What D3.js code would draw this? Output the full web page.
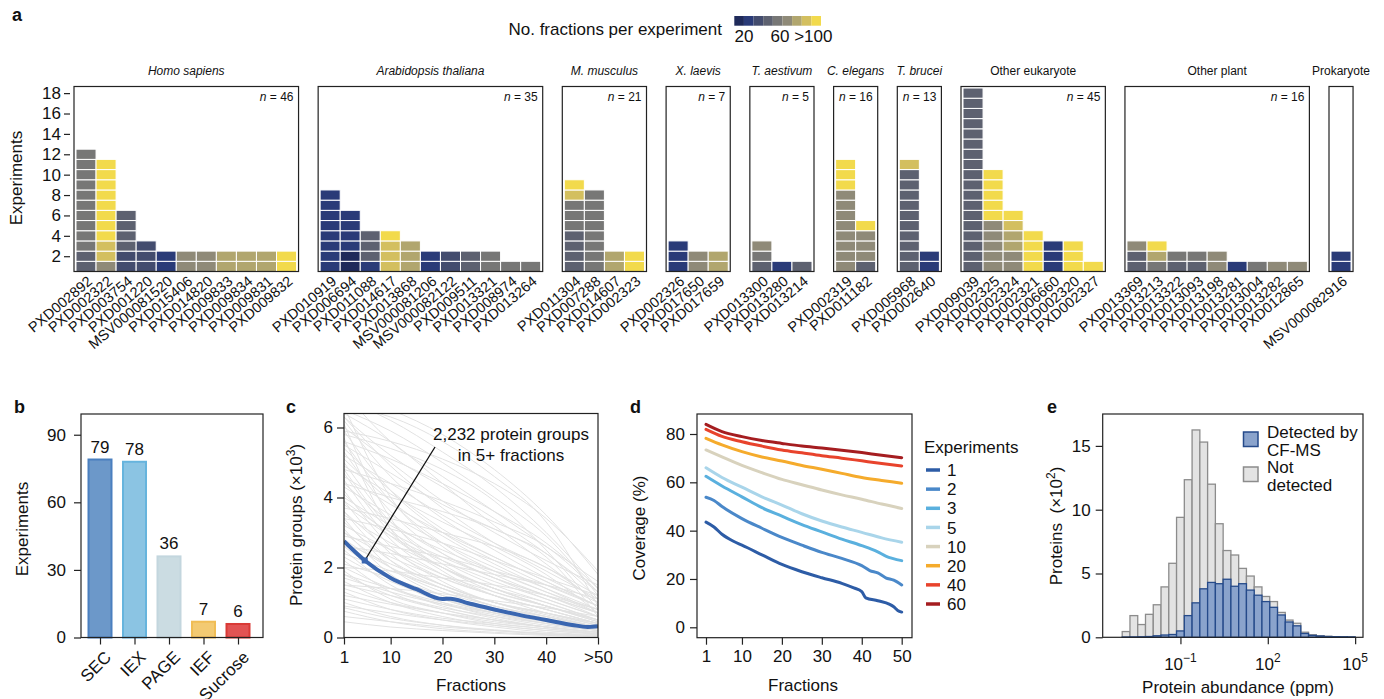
<!DOCTYPE html>
<html><head><meta charset="utf-8">
<script src="https://cdn.jsdelivr.net/npm/d3@7"></script>
<style>
body{margin:0;background:#fff}
svg text{font-family:"Liberation Sans",Arial,Helvetica,sans-serif;fill:#111}
</style></head>
<body><svg id="chart" width="1384" height="699"></svg>
<script>
// ================= DATA =================
// Panel a: colour levels (0..8) of each stacked experiment, bottom to top
const fractionColors = ["#1f2a5a","#2a3b78","#434c6e","#5d6170","#777776","#8f8a78","#b1a66e","#d3bf5f","#f2da4c"];
const fractionLegendLabels = ["20","60",">100"];
const fractionLegendAt = [1, 4.75, 8.2];

const homoIds = ["PXD002892","PXD002322","PXD003754","PXD001220","MSV000081520","PXD015406","PXD014820","PXD009833","PXD009834","PXD009831","PXD009832"];
const homoStacks = [[3,3,4,4,4,4,4,4,4,4,4,4],[5,7,7,8,8,8,8,8,8,8,8],[2,2,3,3,3,3],[2,2,2],[1,1],[5,5],[5,5],[6,6],[6,6],[6,6],[8,8]];
const arabIds = ["PXD010919","PXD006694","PXD011088","PXD014617","PXD013868","MSV000081206","MSV000082122","PXD009511","PXD013321","PXD008974","PXD013264"];
const arabStacks = [[1,1,1,1,1,1,1,1],[0,0,1,1,1,1],[1,3,3,3],[7,7,7,8],[6,6,6],[1,1],[2,2],[3,3],[4,4],[4],[4]];
const musIds = ["PXD011304","PXD007288","PXD014607","PXD002323"];
const musStacks = [[3,3,3,3,4,4,4,7,8],[4,4,4,4,4,4,4,4],[6,6],[8,8]];
const xenIds = ["PXD002326","PXD017650","PXD017659"];
const xenStacks = [[1,1,1],[5,5],[6,6]];
const triIds = ["PXD013300","PXD013280","PXD013214"];
const triStacks = [[3,4,5],[1],[3]];
const celIds = ["PXD002319","PXD011182"];
const celStacks = [[5,5,5,5,5,5,5,5,8,8,8],[3,5,5,5,8]];
const trbIds = ["PXD005968","PXD002640"];
const trbStacks = [[3,3,3,3,3,3,3,3,3,3,7],[1,1]];
const oeuIds = ["PXD009039","PXD002325","PXD002324","PXD002321","PXD006660","PXD002320","PXD002327"];
const oeuStacks = [[3,3,3,3,3,3,3,3,3,3,3,3,3,3,3,3,3,3],[5,5,5,5,5,8,8,8,8,8],[5,5,6,6,7,8],[8,8,8,8],[1,1,1],[8,8,8],[8]];
const oplIds = ["PXD013369","PXD013213","PXD013322","PXD013093","PXD013198","PXD013281","PXD013004","PXD013282","PXD012865"];
const oplStacks = [[3,3,5],[4,6,8],[3,4],[3,4],[5,5],[1],[4],[5],[5]];
const proIds = ["MSV000082916"];
const proStacks = [[1,1]];

const groupNames = ["Homo sapiens","Arabidopsis thaliana","M. musculus","X. laevis","T. aestivum","C. elegans","T. brucei","Other eukaryote","Other plant","Prokaryote"];
const groupItalic = [true,true,true,true,true,true,true,false,false,false];
const groupN = [46,35,21,7,5,16,13,45,16,null];
const groupIds = [homoIds,arabIds,musIds,xenIds,triIds,celIds,trbIds,oeuIds,oplIds,proIds];
const groupStacks = [homoStacks,arabStacks,musStacks,xenStacks,triStacks,celStacks,trbStacks,oeuStacks,oplStacks,proStacks];
const aTicks = [2,4,6,8,10,12,14,16,18];

// Panel b
const methods = ["SEC","IEX","PAGE","IEF","Sucrose"];
const methodCounts = [79,78,36,7,6];
const methodFill = ["#6c98c9","#8bc4e3","#cbdce2","#f3ca72","#e25353"];
const methodStroke = ["#4a7fbf","#66b4dd","#c3d6de","#f0bd55","#d93a36"];
const bTicks = [0,30,60,90];

// Panel c
const cX = [1,10,20,30,40,50];
const cGrayLines = [
[7.0,5.6,4.6,3.6,2.6,1.6],[6.8,6.2,5.3,4.3,3.0,1.4],[6.5,5.9,5.0,4.0,2.9,1.2],[6.3,5.2,4.3,3.4,2.4,1.3],
[6.2,4.6,3.4,2.5,1.7,1.0],[6.0,5.0,3.9,3.0,2.2,1.5],[5.9,4.2,3.0,2.2,1.5,0.9],[5.8,5.4,4.8,3.9,2.5,0.8],
[5.6,3.9,2.7,1.9,1.3,0.8],[5.5,4.7,3.8,3.1,2.4,1.1],[5.3,3.6,2.4,1.7,1.1,0.6],[5.2,4.4,3.5,2.7,2.0,1.2],
[5.0,3.3,2.2,1.5,1.0,0.5],[4.9,4.1,3.3,2.6,1.8,0.7],[4.7,3.0,2.0,1.3,0.9,0.5],[4.6,3.8,3.0,2.3,1.6,0.9],
[4.5,2.8,1.8,1.2,0.8,0.4],[4.3,3.5,2.7,2.0,1.4,0.8],[4.2,2.6,1.6,1.0,0.7,0.4],[4.0,3.2,2.5,1.9,1.3,0.7],
[3.9,2.4,1.5,1.0,0.6,0.3],[3.8,2.9,2.2,1.6,1.1,0.6],[3.6,2.2,1.4,0.9,0.6,0.3],[3.5,2.7,2.0,1.4,1.0,0.5],
[3.4,2.0,1.2,0.8,0.5,0.25],[3.2,2.5,1.8,1.3,0.9,0.5],[3.1,1.8,1.1,0.7,0.4,0.2],[3.0,2.3,1.7,1.2,0.8,0.4],
[2.8,1.7,1.0,0.6,0.35,0.2],[2.7,2.1,1.5,1.0,0.7,0.35],[2.5,1.5,0.9,0.55,0.3,0.15],[2.4,1.9,1.4,0.9,0.6,0.3],
[2.2,1.3,0.8,0.5,0.3,0.15],[2.1,1.7,1.2,0.8,0.5,0.25],[1.9,1.1,0.7,0.4,0.25,0.1],[1.8,1.4,1.0,0.7,0.45,0.2],
[1.6,1.0,0.6,0.35,0.2,0.1],[1.5,1.2,0.85,0.6,0.4,0.2],[1.3,0.8,0.5,0.3,0.15,0.08],[1.2,0.95,0.7,0.5,0.3,0.15],
[1.0,0.6,0.35,0.2,0.1,0.05],[0.9,0.7,0.5,0.35,0.2,0.1],[0.75,0.45,0.25,0.15,0.08,0.04],[0.6,0.45,0.3,0.2,0.1,0.05],
[0.45,0.3,0.2,0.12,0.06,0.03],[6.6,4.0,2.6,1.8,1.2,0.7],[6.1,3.4,2.1,1.4,0.9,0.5],[5.7,3.1,1.9,1.2,0.7,0.35],
[4.4,4.0,3.6,3.1,2.3,0.6],[3.7,3.4,3.0,2.6,2.0,1.0],[2.9,2.6,2.3,1.9,1.5,0.9],
[6.9,6.5,5.8,4.8,3.5,1.8],[6.4,5.6,4.4,3.2,2.1,1.0],[6.3,4.9,3.7,2.7,1.9,1.1],[5.9,5.6,5.1,4.4,3.4,1.9],
[5.4,4.2,3.1,2.3,1.6,0.9],[5.1,3.9,2.9,2.1,1.4,0.7],[4.8,3.1,2.0,1.4,0.9,0.45],[4.4,3.3,2.4,1.7,1.2,0.6],
[4.1,2.9,2.0,1.4,0.9,0.45],[3.9,3.0,2.3,1.7,1.2,0.7],[3.6,2.5,1.7,1.2,0.8,0.4],[3.3,2.2,1.5,1.0,0.65,0.3],
[3.0,2.0,1.3,0.9,0.55,0.3],[2.8,2.0,1.4,1.0,0.7,0.4],[2.6,1.7,1.1,0.7,0.45,0.25],[2.3,1.6,1.1,0.75,0.5,0.3],
[2.0,1.4,0.95,0.65,0.4,0.2],[1.8,1.2,0.8,0.5,0.3,0.15],[1.7,1.3,0.95,0.7,0.5,0.3],[1.4,1.0,0.7,0.45,0.3,0.15],
[1.1,0.8,0.55,0.4,0.25,0.12],[0.85,0.55,0.35,0.22,0.12,0.06],[3.4,3.1,2.7,2.2,1.7,1.2],[2.6,2.4,2.1,1.8,1.5,1.1],
[2.0,1.9,1.7,1.5,1.2,0.8],[4.8,4.4,3.9,3.3,2.6,1.3],[5.6,5.1,4.4,3.6,2.7,1.4],[6.6,6.3,5.6,4.6,3.3,0.9],
[1.5,1.4,1.25,1.05,0.85,0.6]
];
const cMedianX = [1,5,10,15,20,21.5,25,30,35,40,45,48,50];
const cMedianY = [2.75,2.2,1.7,1.38,1.1,1.11,0.98,0.8,0.64,0.5,0.36,0.3,0.32];
const cTicksX = [1,10,20,30,40,50];
const cTicksY = [0,2,4,6];

// Panel d
const dExperiments = ["1","2","3","5","10","20","40","60"];
const dColors = ["#2d5ca6","#4a88c9","#5ab0de","#a9d5ea","#d8d2bd","#f5ab2c","#e8432c","#a51d20"];
const dX1 = [1,3,5,8,10,15,20,25,30,35,38,40,41,44,47,48,49,50];
const dY1 = [43.5,41.5,38.5,35.5,34,30,26,23,20.5,18.2,16.3,14.8,12.2,11,9.5,8.5,7,6.3];
const dX2 = [1,3,5,10,15,20,25,30,35,40,42,44,46,48,50];
const dY2 = [53.8,52.5,50,45,41,37.2,34,31,28.5,25.5,23.5,22.5,20.5,19.5,17.5];
const dX3 = [1,5,10,15,20,25,30,35,40,44,46,50];
const dY3 = [62.5,58.5,54,49.5,46,42.5,39.5,36.5,33.8,31.2,29.5,27.6];
const dXs = [1,5,10,15,20,25,30,35,40,45,50];
const dY5 = [66,62,58,54,50.6,47,44,41.5,39.3,37,35.2];
const dY10 = [73.4,70.5,67,64,61.2,59,56.8,54.8,53,51,49.2];
const dY20 = [78.2,75.5,72.7,70.5,68.8,67,65.4,63.7,62,60.8,59.6];
const dY40 = [81.9,79,76.8,75,73.4,72.2,71,70,68.9,67.8,66.8];
const dY60 = [84,81,78.9,77.3,76.1,75,74.2,73.3,72.3,71.2,70.2];
const dTicksX = [1,10,20,30,40,50];
const dTicksY = [0,20,40,60,80];

// Panel e (counts x100, 30 log10 bins from 1e-3 to 1e5)
const eBinStart = -3, eBinEnd = 5;
const eNotDetected = [0.45,1.7,1.0,1.8,2.55,3.95,5.8,9.4,12.35,16.25,15.3,12.0,8.9,6.8,6.45,5.4,4.8,3.95,3.2,2.8,1.95,1.35,1.1,0.4,0.2,0.12,0.08,0.05,0.04,0.03];
const eDetected = [0.02,0.03,0.04,0.06,0.12,0.18,0.22,0.5,1.7,2.7,3.8,4.3,4.2,4.55,4.0,4.2,3.7,3.3,2.8,2.35,1.75,1.2,0.9,0.3,0.15,0.1,0.06,0.05,0.04,0.03];
const eTicksX = [-1,2,5];
const eTicksY = [0,5,10,15];

// ================= DRAW =================
const svg = d3.select("#chart");
const FS = 17;
function frame(x0,y0,x1,y1){
  svg.append("rect").attr("x",x0).attr("y",y0).attr("width",x1-x0).attr("height",y1-y0)
    .attr("fill","none").attr("stroke","#222").attr("stroke-width",1.2);
}
function styleAxis(g){
  g.select(".domain").remove();
  g.selectAll("line").attr("stroke","#222").attr("stroke-width",1.2);
  g.selectAll("text").attr("font-size",FS).attr("fill","#111")
    .style("font-family","'Liberation Sans',Arial,sans-serif");
}
function panelLabel(t,x,y){
  svg.append("text").attr("x",x).attr("y",y).attr("font-size",18).attr("font-weight","bold").text(t);
}
function yTitle(t,x,y){
  return svg.append("text").attr("transform",`translate(${x},${y}) rotate(-90)`).attr("text-anchor","middle").attr("font-size",FS).text(t);
}
const intFmt = d3.format("d");

// ---- Panel a ----
panelLabel("a",12,21);
const colW = 20.05, framePad = 2, frameGap = 19.6;
const yA = d3.scaleLinear().domain([0.5,18.65]).range([271.5,86.5]);
const fracColor = d3.scaleOrdinal().domain(d3.range(9)).range(fractionColors);
let fx = 74;
groupNames.forEach((name,gi)=>{
  const ids = groupIds[gi], stacks = groupStacks[gi];
  const w = ids.length*colW + 2*framePad;
  const xb = d3.scaleBand().domain(ids).range([fx+framePad, fx+framePad+ids.length*colW]);
  ids.forEach((id,k)=>{
    svg.append("g").selectAll("rect").data(stacks[k]).join("rect")
      .attr("x",xb(id)).attr("width",xb.bandwidth())
      .attr("y",(d,i)=>yA(i+1.5)).attr("height",(d,i)=>yA(i+0.5)-yA(i+1.5))
      .attr("fill",d=>fracColor(d)).attr("stroke","#fff").attr("stroke-width",1);
    svg.append("text").attr("transform",`translate(${xb(id)+xb.bandwidth()/2+4},${279}) rotate(-40)`)
      .attr("text-anchor","end").attr("dy","0.35em").attr("font-size",14.5).text(id);
  });
  frame(fx, yA.range()[1], fx+w, yA.range()[0]);
  svg.append("text").attr("x",fx+w/2).attr("y",75).attr("text-anchor","middle").attr("font-size",12)
    .attr("font-style",groupItalic[gi]?"italic":"normal").text(name);
  if(groupN[gi]!==null){
    const t = svg.append("text").attr("x",fx+w-5).attr("y",101).attr("text-anchor","end").attr("font-size",12);
    t.append("tspan").attr("font-style","italic").text("n");
    t.append("tspan").text(" = "+groupN[gi]);
  }
  fx += w + frameGap;
});
svg.append("g").attr("transform","translate(70,0)").call(d3.axisLeft(yA).tickValues(aTicks).tickSize(6).tickPadding(3)).call(styleAxis);
yTitle("Experiments",22,178);
// legend
svg.append("text").attr("x",722).attr("y",35).attr("text-anchor","end").attr("font-size",FS).text("No. fractions per experiment");
const legX = d3.scaleLinear().domain([0,9]).range([734.3,821]);
svg.append("g").selectAll("rect").data(fractionColors).join("rect")
  .attr("x",(d,i)=>legX(i)).attr("y",16).attr("width",legX(1)-legX(0)).attr("height",9.7).attr("fill",d=>d);
svg.append("g").selectAll("text").data(fractionLegendLabels).join("text")
  .attr("x",(d,i)=>legX(fractionLegendAt[i])).attr("y",42).attr("text-anchor","middle").attr("font-size",FS).text(d=>d);

// ---- Panel b ----
panelLabel("b",14,413);
const xB = d3.scalePoint().domain(methods).range([100,238]);
const yB = d3.scaleLinear().domain([0,99.2]).range([637.5,414]);
const bw = 23;
svg.append("g").selectAll("rect").data(methods).join("rect")
  .attr("x",d=>xB(d)-bw/2).attr("width",bw)
  .attr("y",(d,i)=>yB(methodCounts[i])).attr("height",(d,i)=>yB(0)-yB(methodCounts[i]))
  .attr("fill",(d,i)=>methodFill[i]).attr("stroke",(d,i)=>methodStroke[i]).attr("stroke-width",2);
svg.append("g").selectAll("text").data(methods).join("text")
  .attr("x",d=>xB(d)).attr("y",(d,i)=>yB(methodCounts[i])-7).attr("text-anchor","middle").attr("font-size",FS)
  .text((d,i)=>methodCounts[i]);
frame(81,414,263,637.5);
svg.append("g").attr("transform","translate(81,0)").call(d3.axisLeft(yB).tickValues(bTicks).tickSize(7).tickPadding(8)).call(styleAxis);
svg.append("g").attr("transform","translate(0,637.5)").call(d3.axisBottom(xB).tickSize(7).tickFormat("")).call(styleAxis);
svg.append("g").selectAll("text").data(methods).join("text")
  .attr("transform",d=>`translate(${xB(d)+8},${654}) rotate(-45)`).attr("text-anchor","end").attr("dy","0.35em")
  .attr("font-size",FS).text(d=>d);
yTitle("Experiments",28,529);

// ---- Panel c ----
panelLabel("c",286,413);
const xC = d3.scaleLinear().domain([1,50]).range([344,598]);
const yC = d3.scaleLinear().domain([0,6.4]).range([637.5,413.5]);
svg.append("clipPath").attr("id","clipC").append("rect").attr("x",344).attr("y",413.5).attr("width",254).attr("height",224);
const lineC = d3.line().x(d=>xC(d[0])).y(d=>yC(d[1])).curve(d3.curveMonotoneX);
const gC = svg.append("g").attr("clip-path","url(#clipC)");
gC.selectAll("path.gray").data(cGrayLines).join("path").attr("class","gray")
  .attr("d",ys=>lineC(ys.map((v,i)=>[cX[i],v]))).attr("fill","none").attr("stroke","#e2e2e2").attr("stroke-width",1);
gC.append("path").attr("d",lineC(cMedianX.map((x,i)=>[x,cMedianY[i]]))).attr("fill","none").attr("stroke","#3a66b0").attr("stroke-width",4);
frame(344,413.5,598,637.5);
svg.append("g").attr("transform","translate(344,0)").call(d3.axisLeft(yC).tickValues(cTicksY).tickSize(7).tickPadding(4).tickFormat(intFmt)).call(styleAxis);
svg.append("g").attr("transform","translate(0,637.5)").call(d3.axisBottom(xC).tickValues(cTicksX).tickSize(7).tickPadding(6).tickFormat(d=>d===50?">50":intFmt(d))).call(styleAxis);
svg.append("line").attr("x1",xC(cMedianX[1])).attr("y1",yC(cMedianY[1])).attr("x2",435).attr("y2",447).attr("stroke","#111").attr("stroke-width",1.3);
svg.append("rect").attr("x",xC(cMedianX[1])-3).attr("y",yC(cMedianY[1])-3).attr("width",6).attr("height",6).attr("fill","#3a66b0");
svg.append("text").attr("x",511).attr("y",440).attr("text-anchor","middle").attr("font-size",FS).text("2,232 protein groups");
svg.append("text").attr("x",511).attr("y",461).attr("text-anchor","middle").attr("font-size",FS).text("in 5+ fractions");
const tC = yTitle("",302,525);
tC.append("tspan").text("Protein groups (×10");
tC.append("tspan").attr("dy",-7).attr("font-size",12).text("3");
tC.append("tspan").attr("dy",7).text(")");
svg.append("text").attr("x",471).attr("y",691).attr("text-anchor","middle").attr("font-size",FS).text("Fractions");

// ---- Panel d ----
panelLabel("d",630,413);
const xD = d3.scaleLinear().domain([1,50]).range([706,901.7]);
const yD = d3.scaleLinear().domain([0,80]).range([627.3,434]);
const dSeries = [[dX1,dY1],[dX2,dY2],[dX3,dY3],[dXs,dY5],[dXs,dY10],[dXs,dY20],[dXs,dY40],[dXs,dY60]];
const lineD = d3.line().x(d=>xD(d[0])).y(d=>yD(d[1])).curve(d3.curveMonotoneX);
svg.append("g").selectAll("path").data(dSeries).join("path")
  .attr("d",s=>lineD(s[0].map((x,i)=>[x,s[1][i]]))).attr("fill","none")
  .attr("stroke",(s,i)=>dColors[i]).attr("stroke-width",3).attr("stroke-linecap","round");
frame(697,414,912,637.7);
svg.append("g").attr("transform","translate(697,0)").call(d3.axisLeft(yD).tickValues(dTicksY).tickSize(7).tickPadding(5)).call(styleAxis);
svg.append("g").attr("transform","translate(0,637.7)").call(d3.axisBottom(xD).tickValues(dTicksX).tickSize(7).tickPadding(5)).call(styleAxis);
yTitle("Coverage (%)",645,528);
svg.append("text").attr("x",803).attr("y",691).attr("text-anchor","middle").attr("font-size",FS).text("Fractions");
svg.append("text").attr("x",924).attr("y",453).attr("font-size",FS).text("Experiments");
const legD = d3.scalePoint().domain(dExperiments).range([470,604]);
svg.append("g").selectAll("line").data(dExperiments).join("line")
  .attr("x1",926).attr("x2",940).attr("y1",d=>legD(d)).attr("y2",d=>legD(d))
  .attr("stroke",(d,i)=>dColors[i]).attr("stroke-width",3.5);
svg.append("g").selectAll("text").data(dExperiments).join("text")
  .attr("x",947).attr("y",d=>legD(d)).attr("dy","0.36em").attr("font-size",FS).text(d=>d);

// ---- Panel e ----
panelLabel("e",1047,413);
const xE = d3.scaleLinear().domain([-3.67,5.27]).range([1102.7,1363]);
const yE = d3.scaleLinear().domain([0,17.5]).range([637.3,414]);
const binW = (eBinEnd-eBinStart)/eNotDetected.length;
const gE = svg.append("g");
gE.selectAll("rect.nd").data(eNotDetected).join("rect").attr("class","nd")
  .attr("x",(d,i)=>xE(eBinStart+i*binW)).attr("width",(d,i)=>xE(eBinStart+(i+1)*binW)-xE(eBinStart+i*binW))
  .attr("y",d=>yE(d)).attr("height",d=>yE(0)-yE(d))
  .attr("fill","#e3e3e3").attr("stroke","#8c8c8c").attr("stroke-width",1.3);
gE.selectAll("rect.dt").data(eDetected).join("rect").attr("class","dt")
  .attr("x",(d,i)=>xE(eBinStart+i*binW)).attr("width",(d,i)=>xE(eBinStart+(i+1)*binW)-xE(eBinStart+i*binW))
  .attr("y",d=>yE(d)).attr("height",d=>yE(0)-yE(d))
  .attr("fill","#8aa3cc").attr("stroke","#254a8a").attr("stroke-width",1.3);
frame(1102.7,414,1363,637.3);
svg.append("g").attr("transform","translate(1102.7,0)").call(d3.axisLeft(yE).tickValues(eTicksY).tickSize(7).tickPadding(5)).call(styleAxis);
svg.append("g").attr("transform","translate(0,637.3)").call(d3.axisBottom(xE).tickValues(eTicksX).tickSize(7).tickFormat("")).call(styleAxis);
eTicksX.forEach(v=>{
  const t = svg.append("text").attr("x",xE(v)).attr("y",670).attr("text-anchor","middle").attr("font-size",FS);
  t.append("tspan").text("10");
  t.append("tspan").attr("dy",-8).attr("font-size",12).text(v<0?"−"+(-v):String(v));
});
const tE = yTitle("",1062,526);
tE.append("tspan").text("Proteins \u00a0(×10");
tE.append("tspan").attr("dy",-7).attr("font-size",12).text("2");
tE.append("tspan").attr("dy",7).text(")");
svg.append("text").attr("x",1238).attr("y",693).attr("text-anchor","middle").attr("font-size",FS).text("Protein abundance (ppm)");
// legend e
svg.append("rect").attr("x",1243.5).attr("y",432).attr("width",14.5).attr("height",14.5).attr("fill","#8aa3cc").attr("stroke","#254a8a").attr("stroke-width",1.5);
svg.append("rect").attr("x",1243.5).attr("y",467).attr("width",14.5).attr("height",14.5).attr("fill","#e3e3e3").attr("stroke","#8c8c8c").attr("stroke-width",1.5);
[["Detected by",438],["CF-MS",456],["Not",473],["detected",491]].forEach(([t,y])=>{
  svg.append("text").attr("x",1267).attr("y",y).attr("font-size",FS).text(t);
});
</script>
</body></html>
